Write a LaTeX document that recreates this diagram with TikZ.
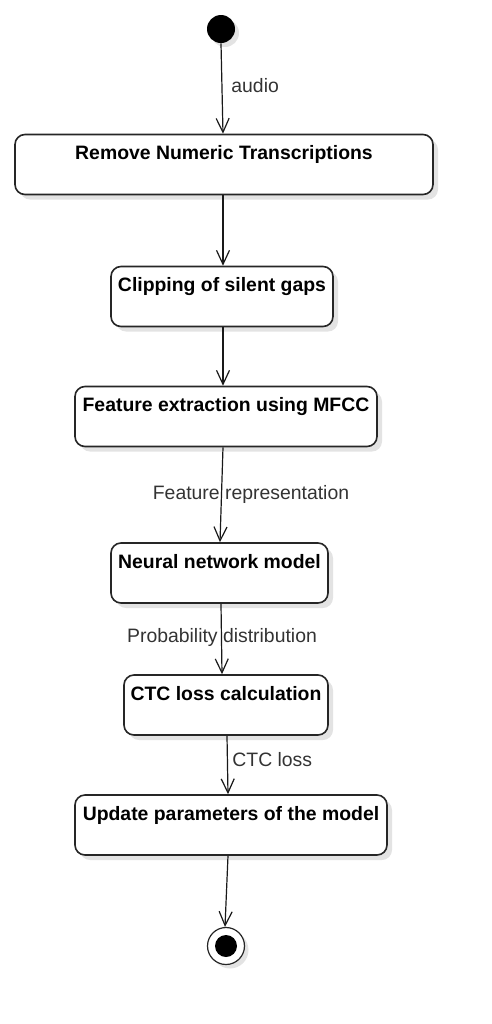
\documentclass[tikz,border=0pt]{standalone}
\usepackage{fontspec}
\setmainfont{Liberation Sans}
\usetikzlibrary{arrows.meta,shadows}

\tikzset{
  act/.style={draw=black!85, line width=0.8pt, rounded corners=5pt, fill=white,
    inner xsep=0pt, inner ysep=0pt, text height=12.5pt, text depth=17.5pt,
    font=\bfseries\fontsize{9.7}{11}\selectfont,
    drop shadow={shadow xshift=2.5pt, shadow yshift=-2.5pt, fill=black!11, opacity=1}},
  flow/.style={draw=black!90, line width=0.6pt, -{Straight Barb[length=7pt,width=6.5pt]}},
  lbl/.style={text=black!80, font=\fontsize{9.7}{11}\selectfont, inner sep=0pt}
}

\begin{document}
\begin{tikzpicture}[x=0.5pt,y=-0.5pt]
\useasboundingbox (0,0) rectangle (492,1024);

% start and stop
\node[circle, fill=black, inner sep=0pt, minimum size=14pt,
  drop shadow={shadow xshift=2pt, shadow yshift=-2pt, fill=black!11, opacity=1}] (start) at (221,29) {};
\node[circle, draw=black!85, fill=white, line width=0.6pt, inner sep=0pt, minimum size=18.5pt,
  drop shadow={shadow xshift=2pt, shadow yshift=-2pt, fill=black!11, opacity=1}] (stop) at (226,946) {};
\node[circle, fill=black, inner sep=0pt, minimum size=11pt] (stopdot) at (stop) {};

% activities
\foreach \n/\cx/\cy/\w/\txt in {
  1/224/164.5/209pt/Remove Numeric Transcriptions,
  2/222/296.5/111pt/Clipping of silent gaps,
  3/226/416.5/151pt/Feature extraction using MFCC,
  4/219.5/573/108.5pt/Neural network model,
  5/226/705/102pt/CTC loss calculation,
  6/231/825/156pt/Update parameters of the model} {
\node[act, minimum width=\w] (b\n) at (\cx,\cy) {\txt};
}

% flow
\draw[flow] (start.south) -- ([xshift=-0.5pt]b1.north);
\draw[flow] ([xshift=-0.5pt]b1.south) -- ([xshift=0.5pt]b2.north);
\draw[flow] ([xshift=0.5pt]b2.south) -- ([xshift=-1.5pt]b3.north);
\draw[flow] ([xshift=-1.5pt]b3.south) -- ([xshift=0.25pt]b4.north);
\draw[flow] ([xshift=0.75pt]b4.south) -- ([xshift=-2pt]b5.north);
\draw[flow] ([xshift=0.5pt]b5.south) -- ([xshift=-1.5pt]b6.north);
\draw[flow] ([xshift=-1.5pt]b6.south) -- ([xshift=-0.5pt]stop.north);

% labels
\node[lbl, anchor=west] (laudio) at (231,86) {audio};
\node[lbl] (lfeat) at (251,494) {Feature representation};
\node[lbl] (lprob) at (222,637) {Probability distribution};
\node[lbl, anchor=west] (lctc) at (232,760) {CTC loss};
\end{tikzpicture}
\end{document}
